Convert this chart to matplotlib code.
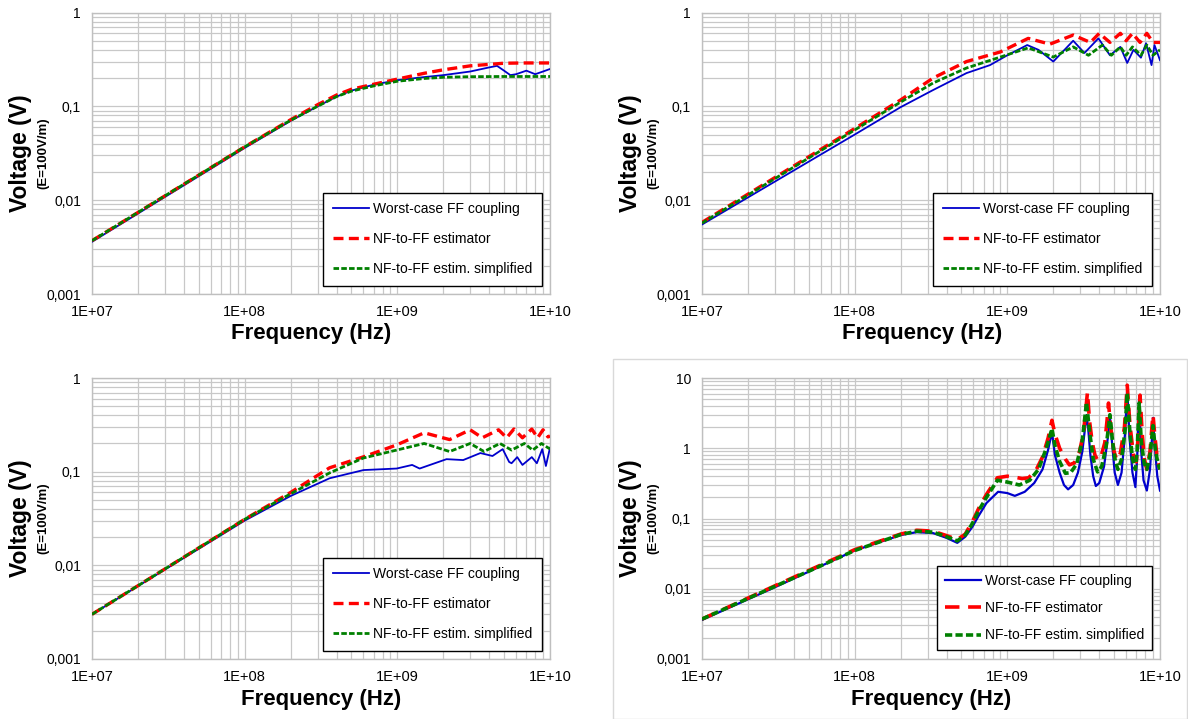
import matplotlib
matplotlib.use("Agg")
import matplotlib.pyplot as plt
from matplotlib.patches import Rectangle

plt.rcParams['font.family'] = ['Liberation Sans', 'DejaVu Sans']

# ---- panel (a): top left ----
a_blue_f = [1e7, 1e8, 2e8, 3e8, 4e8, 5e8, 7e8, 1e9, 1.5e9, 2e9, 3e9, 4e9, 4.5e9, 5e9, 5.5e9, 6e9, 7e9, 8e9, 9e9, 1e10]
a_blue_v = [0.0036, 0.036, 0.07, 0.1, 0.127, 0.147, 0.17, 0.19, 0.205, 0.215, 0.235, 0.26, 0.27, 0.24, 0.215, 0.22, 0.24, 0.22, 0.235, 0.25]
a_red_f = [1e7, 1e8, 2e8, 3e8, 4e8, 5e8, 7e8, 1e9, 1.5e9, 2e9, 3e9, 4e9, 5e9, 7e9, 1e10]
a_red_v = [0.0037, 0.037, 0.072, 0.104, 0.132, 0.152, 0.172, 0.195, 0.225, 0.245, 0.27, 0.28, 0.288, 0.29, 0.29]
a_grn_f = [1e7, 1e8, 2e8, 3e8, 4e8, 5e8, 7e8, 1e9, 1.5e9, 2e9, 3e9, 5e9, 1e10]
a_grn_v = [0.0037, 0.037, 0.071, 0.1, 0.127, 0.145, 0.165, 0.185, 0.198, 0.204, 0.207, 0.208, 0.208]

# ---- panel (b): top right ----
b_blue_f = [1e7, 1e8, 2e8, 3.26e8, 5.4e8, 7.7e8, 1e9, 1.35e9, 1.6e9, 2e9, 2.7e9, 3.2e9, 3.95e9, 4.7e9,
            5.5e9, 6.1e9, 6.7e9, 7.5e9, 8.1e9, 8.8e9, 9.2e9, 1e10]
b_blue_v = [0.0055, 0.05, 0.098, 0.149, 0.226, 0.275, 0.35, 0.45, 0.40, 0.30, 0.50, 0.37, 0.53, 0.35,
            0.43, 0.29, 0.40, 0.33, 0.47, 0.275, 0.45, 0.31]
b_red_f = [1e7, 1e8, 2e8, 3.26e8, 5.4e8, 9e8, 1.37e9, 1.9e9, 2.7e9, 3.5e9, 4.0e9, 4.7e9, 5.5e9, 6.0e9,
           6.6e9, 7.4e9, 8.2e9, 9e9, 1e10]
b_red_v = [0.0058, 0.058, 0.117, 0.2, 0.30, 0.38, 0.53, 0.46, 0.575, 0.48, 0.60, 0.48, 0.60, 0.50,
           0.60, 0.48, 0.60, 0.48, 0.48]
b_grn_f = [1e7, 1e8, 2e8, 3.26e8, 5.4e8, 9e8, 1.37e9, 2e9, 2.7e9, 3.4e9, 4.2e9, 4.8e9, 5.5e9, 6e9,
           6.6e9, 7.5e9, 8.2e9, 9e9, 1e10]
b_grn_v = [0.0057, 0.056, 0.111, 0.177, 0.256, 0.335, 0.42, 0.335, 0.43, 0.35, 0.45, 0.35, 0.43, 0.35,
           0.43, 0.35, 0.45, 0.35, 0.40]

# ---- panel (c): bottom left ----
c_blue_f = [1e7, 1e8, 2e8, 3.6e8, 6e8, 9.9e8, 1.25e9, 1.4e9, 2.1e9, 2.7e9, 3.5e9, 4.2e9, 4.9e9, 5.4e9,
            5.6e9, 6.1e9, 6.6e9, 7.6e9, 8.2e9, 8.9e9, 9.4e9, 1e10]
c_blue_v = [0.003, 0.03, 0.055, 0.085, 0.104, 0.108, 0.118, 0.108, 0.136, 0.133, 0.158, 0.147, 0.174, 0.127,
            0.123, 0.143, 0.118, 0.143, 0.123, 0.174, 0.115, 0.18]
c_red_f = [1e7, 1e8, 2e8, 3.6e8, 6e8, 9.9e8, 1.5e9, 2.2e9, 3e9, 3.6e9, 4.6e9, 5.2e9, 5.8e9, 6.6e9,
           7.6e9, 8.3e9, 9e9, 9.7e9, 1e10]
c_red_v = [0.003, 0.031, 0.06, 0.11, 0.144, 0.193, 0.26, 0.22, 0.28, 0.23, 0.28, 0.23, 0.285, 0.23,
           0.285, 0.23, 0.28, 0.235, 0.24]
c_grn_f = [1e7, 1e8, 2e8, 3.6e8, 6e8, 9.9e8, 1.5e9, 2.2e9, 3e9, 3.7e9, 4.7e9, 5.6e9, 6.8e9, 7.7e9,
           8.8e9, 9.7e9, 1e10]
c_grn_v = [0.003, 0.031, 0.058, 0.097, 0.14, 0.17, 0.2, 0.164, 0.2, 0.164, 0.2, 0.17, 0.2, 0.17,
           0.2, 0.18, 0.175]

# ---- panel (d): bottom right ----
d_blue_f = [1e7, 3e7, 1e8, 2e8, 2.55e8, 3.26e8, 4e8, 4.7e8, 5.3e8, 5.9e8, 6.5e8, 7.3e8, 8.7e8, 1e9,
            1.12e9, 1.3e9, 1.5e9, 1.7e9, 1.85e9, 1.96e9, 2.05e9, 2.2e9, 2.35e9, 2.5e9, 2.7e9, 2.9e9,
            3.1e9, 3.25e9, 3.3e9, 3.38e9, 3.5e9, 3.65e9, 3.8e9, 4.0e9, 4.3e9, 4.55e9, 4.7e9, 4.85e9,
            5.05e9, 5.3e9, 5.6e9, 5.9e9, 6.1e9, 6.3e9, 6.6e9, 6.9e9, 7.1e9, 7.3e9, 7.5e9, 7.8e9,
            8.2e9, 8.6e9, 8.9e9, 9.0e9, 9.2e9, 9.6e9, 1e10]
d_blue_v = [0.0036, 0.0105, 0.035, 0.058, 0.064, 0.062, 0.053, 0.045, 0.055, 0.076, 0.11, 0.166, 0.24, 0.23,
            0.21, 0.24, 0.32, 0.5, 0.95, 1.7, 0.8, 0.45, 0.3, 0.26, 0.3, 0.45,
            0.9, 2.2, 2.97, 2.0, 0.8, 0.4, 0.29, 0.32, 0.55, 1.4, 2.8, 1.2,
            0.45, 0.3, 0.45, 1.6, 7.2, 1.5, 0.45, 0.28, 0.8, 5.4, 1.0, 0.35,
            0.25, 0.5, 1.6, 2.7, 1.2, 0.4, 0.25]
d_red_f = [1e7, 3e7, 1e8, 2e8, 2.55e8, 3.26e8, 4e8, 4.7e8, 5.3e8, 5.9e8, 6.5e8, 7.3e8, 8.6e8, 1.0e9,
           1.1e9, 1.25e9, 1.38e9, 1.55e9, 1.7e9, 1.85e9, 1.96e9, 2.05e9, 2.2e9, 2.4e9, 2.55e9, 2.75e9,
           2.95e9, 3.15e9, 3.3e9, 3.35e9, 3.45e9, 3.6e9, 3.75e9, 3.9e9, 4.1e9, 4.35e9, 4.5e9, 4.6e9,
           4.75e9, 5.0e9, 5.2e9, 5.5e9, 5.85e9, 6.1e9, 6.35e9, 6.7e9, 7.0e9, 7.2e9, 7.4e9, 7.65e9,
           7.9e9, 8.2e9, 8.6e9, 8.85e9, 9.0e9, 9.25e9, 9.6e9, 1e10]
d_red_v = [0.0037, 0.011, 0.036, 0.06, 0.068, 0.066, 0.057, 0.05, 0.06, 0.09, 0.14, 0.22, 0.38, 0.40,
           0.39, 0.37, 0.38, 0.5, 0.75, 1.4, 2.5, 1.6, 1.0, 0.7, 0.58, 0.62,
           0.85, 1.6, 4.5, 6.3, 2.5, 1.2, 0.8, 0.68, 0.75, 1.2, 2.5, 4.4,
           2.0, 0.9, 0.68, 0.85, 2.0, 7.9, 2.2, 0.8, 0.64, 1.5, 5.7, 1.6,
           0.7, 0.5, 0.9, 2.0, 3.0, 1.5, 0.7, 0.5]
d_grn_f = [1e7, 3e7, 1e8, 2e8, 2.55e8, 3.26e8, 4e8, 4.7e8, 5.3e8, 5.9e8, 6.5e8, 7.3e8, 8.6e8, 1.0e9,
           1.2e9, 1.4e9, 1.6e9, 1.8e9, 1.96e9, 2.05e9, 2.2e9, 2.4e9, 2.6e9, 2.85e9, 3.1e9, 3.3e9,
           3.45e9, 3.65e9, 3.9e9, 4.15e9, 4.45e9, 4.7e9, 4.9e9, 5.1e9, 5.3e9, 5.6e9, 5.9e9, 6.1e9,
           6.35e9, 6.6e9, 6.9e9, 7.1e9, 7.3e9, 7.55e9, 7.9e9, 8.2e9, 8.6e9, 9.0e9, 9.3e9, 9.7e9, 1e10]
d_grn_v = [0.0037, 0.0108, 0.035, 0.059, 0.066, 0.064, 0.055, 0.048, 0.058, 0.085, 0.13, 0.2, 0.35, 0.33,
           0.30, 0.35, 0.5, 1.0, 1.9, 1.1, 0.65, 0.44, 0.45, 0.6, 1.3, 4.5,
           1.8, 0.7, 0.46, 0.55, 1.1, 3.0, 1.2, 0.65, 0.5, 0.7, 1.8, 6.1,
           1.7, 0.7, 0.5, 1.0, 4.4, 1.2, 0.6, 0.5, 0.8, 2.1, 1.0, 0.6, 0.5]

labels = ["Worst-case FF coupling", "NF-to-FF estimator", "NF-to-FF estim. simplified"]
x_ticks = [1e7, 1e8, 1e9, 1e10]
x_ticklabels = ["1E+07", "1E+08", "1E+09", "1E+10"]
y_ticks = [0.001, 0.01, 0.1, 1, 10]
y_ticklabels = ["0,001", "0,01", "0,1", "1", "10"]

W, H = 1188, 719
fig = plt.figure(figsize=(W / 100, H / 100), dpi=100)

# light frame around the bottom-right chart
fig.patches.append(Rectangle((613 / W, 0.5 / H), (1187 - 613) / W, (H - 359 - 0.5) / H,
                             transform=fig.transFigure, fill=False, edgecolor='#d9d9d9', lw=1))

panels = [
    # left, top, bottom px ; data ; ymax ; big dashes ; xlabel shift px
    (92, 12.5, 294, (a_blue_f, a_blue_v, a_red_f, a_red_v, a_grn_f, a_grn_v), 1, False, -10),
    (702, 12.5, 294, (b_blue_f, b_blue_v, b_red_f, b_red_v, b_grn_f, b_grn_v), 1, False, -9),
    (92, 378, 659, (c_blue_f, c_blue_v, c_red_f, c_red_v, c_grn_f, c_grn_v), 1, False, 0),
    (702, 378, 659, (d_blue_f, d_blue_v, d_red_f, d_red_v, d_grn_f, d_grn_v), 10, True, 0),
]

for left, top, bottom, data, ymax, big, xshift in panels:
    ax = fig.add_axes([left / W, 1 - bottom / H, 458 / W, (bottom - top) / H])
    ax.set_xscale('log')
    ax.set_yscale('log')
    ax.set_xlim(1e7, 1e10)
    ax.set_ylim(0.001, ymax)

    bf, bv, rf, rv, gf, gv = data
    if big:
        ax.plot(bf, bv, color='#0000CC', lw=1.6, label=labels[0], zorder=3)
        ax.plot(rf, rv, color='#FF0000', lw=2.6, dashes=(4.0, 2.4), label=labels[1], zorder=4)
        ax.plot(gf, gv, color='#008000', lw=2.6, dashes=(2.0, 0.9), label=labels[2], zorder=5)
    else:
        ax.plot(bf, bv, color='#0000CC', lw=1.3, label=labels[0], zorder=3)
        ax.plot(rf, rv, color='#FF0000', lw=2.4, dashes=(3.0, 1.6), label=labels[1], zorder=4)
        ax.plot(gf, gv, color='#008000', lw=2.0, dashes=(2.0, 0.8), label=labels[2], zorder=5)

    ax.grid(True, which='both', color='#c8c8c8', lw=0.9)
    ax.set_axisbelow(True)
    for s in ax.spines.values():
        s.set_color('#bfbfbf')
        s.set_linewidth(1.0)
    ax.set_xticks(x_ticks)
    ax.set_xticklabels(x_ticklabels, fontsize=10.5)
    yt = [t for t in y_ticks if t <= ymax]
    ax.set_yticks(yt)
    ax.set_yticklabels(y_ticklabels[:len(yt)], fontsize=10)
    ax.minorticks_on()
    ax.xaxis.set_minor_formatter(plt.NullFormatter())
    ax.yaxis.set_minor_formatter(plt.NullFormatter())
    ax.tick_params(which='both', length=0)
    ax.tick_params(axis='x', pad=8)
    ax.tick_params(axis='y', pad=8)

    cx = (left + 229 + xshift) / W
    fig.text(cx, 1 - (bottom + 40) / H, "Frequency (Hz)", ha='center', va='center',
             fontsize=16, fontweight='bold')

    cy = 1 - (top + bottom) / 2 / H
    fig.text((left - 71) / W, cy, "Voltage (V)", rotation=90, ha='center', va='center',
             fontsize=16.5, fontweight='bold')
    fig.text((left - 49) / W, cy, "(E=100V/m)", rotation=90, ha='center', va='center',
             fontsize=9.5, fontweight='bold')

    if big:
        leg = ax.legend(loc='lower right', bbox_to_anchor=(450 / 458, 9 / (bottom - top)),
                        fontsize=10, frameon=True, fancybox=False, framealpha=1,
                        edgecolor='black', handlelength=2.6, labelspacing=0.95,
                        borderpad=0.55, handletextpad=0.3, borderaxespad=0)
    else:
        leg = ax.legend(loc='lower right', bbox_to_anchor=(450 / 458, 8 / (bottom - top)),
                        fontsize=10, frameon=True, fancybox=False, framealpha=1,
                        edgecolor='black', handlelength=2.6, labelspacing=1.15,
                        borderpad=0.7, handletextpad=0.3, borderaxespad=0)
    leg.get_frame().set_linewidth(1.0)

fig.savefig("out.png", dpi=100)
